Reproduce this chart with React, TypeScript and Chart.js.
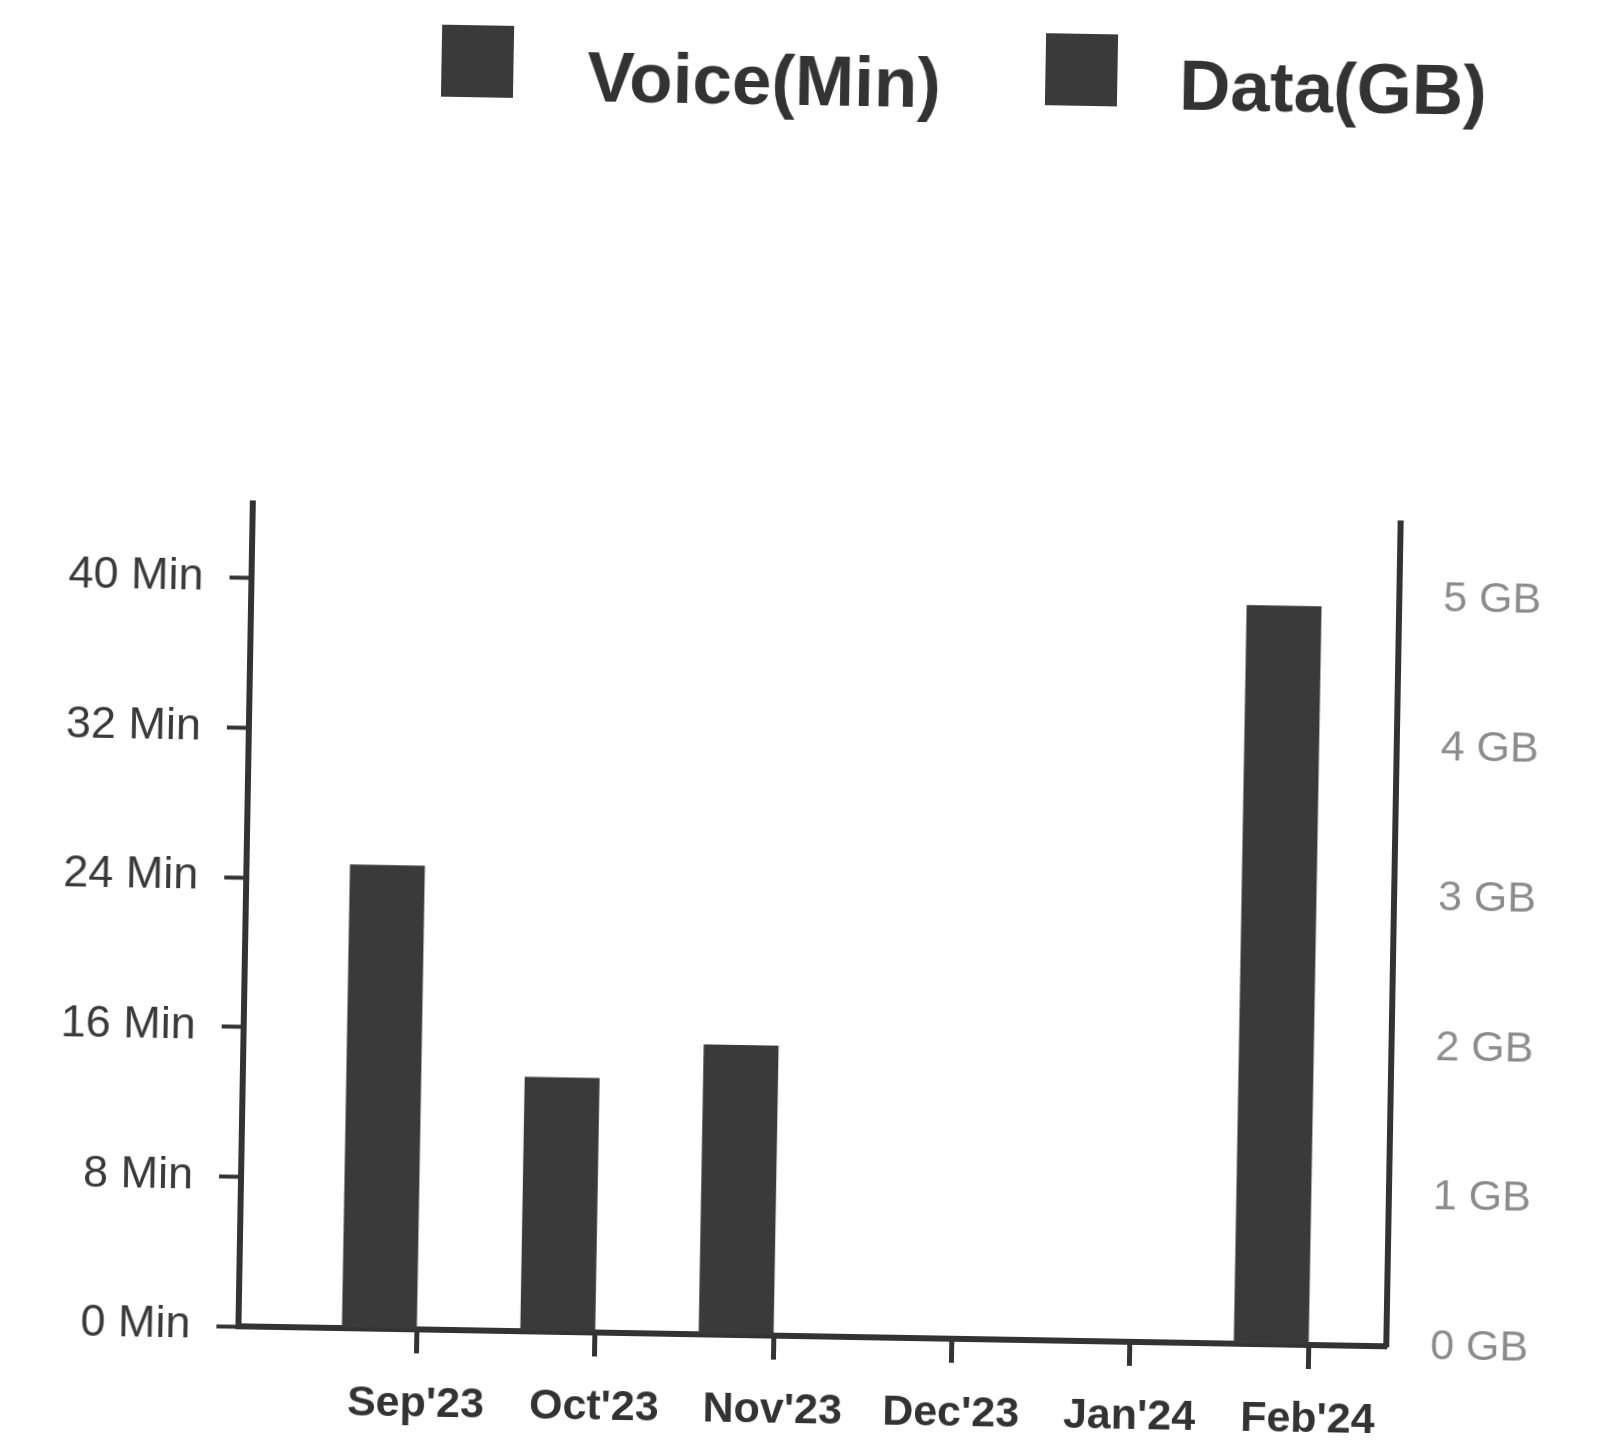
import { useEffect, useRef } from "react";
import { Chart, registerables } from "chart.js";

Chart.register(...registerables);

// ---- data ----
const categories = ["Sep'23", "Oct'23", "Nov'23", "Dec'23", "Jan'24", "Feb'24"];
const voiceMinutes = [24.8, 13.6, 15.5, 0, 0, 39.5];
const dataGB = [0, 0, 0, 0, 0, 0];
const seriesLabels = ["Voice(Min)", "Data(GB)"];
const minuteTicks = [0, 8, 16, 24, 32, 40];
const gbTicks = [0, 1, 2, 3, 4, 5];

const FONT = "'Liberation Sans', Arial, Helvetica, sans-serif";
const BAR = "#3a3a3a";
const INK = "#333333";

const legendPlugin = {
  id: "scanLegend",
  afterDraw(chart: any) {
    const ctx = chart.ctx as CanvasRenderingContext2D;
    const spots = [
      { bx: 430, by: 31, tx: 576, ty: 105 },
      { bx: 1034, by: 29, tx: 1168, ty: 103 },
    ];
    ctx.save();
    chart.data.datasets.forEach((ds: any, i: number) => {
      const s = spots[i];
      if (!s) return;
      ctx.fillStyle = ds.backgroundColor;
      ctx.fillRect(s.bx, s.by, 72, 72);
      ctx.fillStyle = INK;
      ctx.font = `bold 71px ${FONT}`;
      ctx.textBaseline = "alphabetic";
      ctx.textAlign = "left";
      ctx.fillText(ds.label, s.tx, s.ty);
    });
    ctx.restore();
  },
};

export default function App() {
  const ref = useRef<HTMLCanvasElement | null>(null);

  useEffect(() => {
    if (!ref.current) return;
    const chart = new Chart(ref.current, {
      type: "bar",
      data: {
        datasets: [
          {
            label: seriesLabels[0],
            data: voiceMinutes.map((v, i) => ({ x: i, y: v })),
            backgroundColor: BAR,
            borderWidth: 0,
            yAxisID: "y",
          },
          {
            label: seriesLabels[1],
            data: dataGB.map((v, i) => ({ x: i, y: v })),
            backgroundColor: BAR,
            borderWidth: 0,
            yAxisID: "y1",
          },
        ],
      },
      options: {
        responsive: false,
        animation: false,
        devicePixelRatio: 1,
        layout: { padding: { top: 513, left: 0, right: 0, bottom: 0 } },
        categoryPercentage: 0.84,
        barPercentage: 1,
        plugins: {
          legend: { display: false },
          tooltip: { enabled: false },
        },
        scales: {
          x: {
            type: "linear",
            min: -1,
            max: 5.435,
            offset: false,
            afterBuildTicks: (axis: any) => {
              axis.ticks = categories.map((_, i) => ({ value: i }));
            },
            afterFit: (scale: any) => {
              scale.height = 116;
            },
            ticks: {
              autoSkip: false,
              maxRotation: 0,
              padding: 25,
              color: INK,
              font: { family: FONT, size: 43, weight: "bold" },
              callback: (v: any) => categories[v as number] ?? "",
            },
            grid: {
              display: true,
              offset: false,
              drawOnChartArea: false,
              drawTicks: true,
              tickLength: 24,
              tickWidth: 5,
              tickColor: INK,
            },
            border: { display: true, color: INK, width: 6 },
          },
          y: {
            type: "linear",
            position: "left",
            min: 0,
            max: 44,
            afterBuildTicks: (axis: any) => {
              axis.ticks = minuteTicks.map((v) => ({ value: v }));
            },
            afterFit: (scale: any) => {
              scale.width = 249;
            },
            ticks: {
              padding: 26,
              color: "#3a3a3a",
              font: { family: FONT, size: 45 },
              callback: (v: any) => `${v} Min`,
            },
            grid: {
              display: true,
              drawOnChartArea: false,
              drawTicks: true,
              tickLength: 22,
              tickWidth: 4,
              tickColor: INK,
            },
            border: { display: true, color: INK, width: 6 },
          },
          y1: {
            type: "linear",
            position: "right",
            min: 0,
            max: 5.5,
            afterBuildTicks: (axis: any) => {
              axis.ticks = gbTicks.map((v) => ({ value: v }));
            },
            afterFit: (scale: any) => {
              scale.width = 203;
            },
            ticks: {
              padding: 36,
              color: "#8c8c8c",
              font: { family: FONT, size: 43 },
              callback: (v: any) => `${v} GB`,
            },
            grid: { display: false },
            border: { display: true, color: INK, width: 6 },
          },
        },
      } as any,
      plugins: [legendPlugin],
    });
    return () => chart.destroy();
  }, []);

  return (
    <div
      style={{
        position: "absolute",
        left: 0,
        top: 0,
        width: 1600,
        height: 1452,
        background: "#ffffff",
        overflow: "hidden",
      }}
    >
      <canvas
        ref={ref}
        width={1600}
        height={1452}
        style={{
          width: 1600,
          height: 1452,
          display: "block",
          transform: "rotate(1deg)",
          transformOrigin: "800px 726px",
        }}
      />
    </div>
  );
}
